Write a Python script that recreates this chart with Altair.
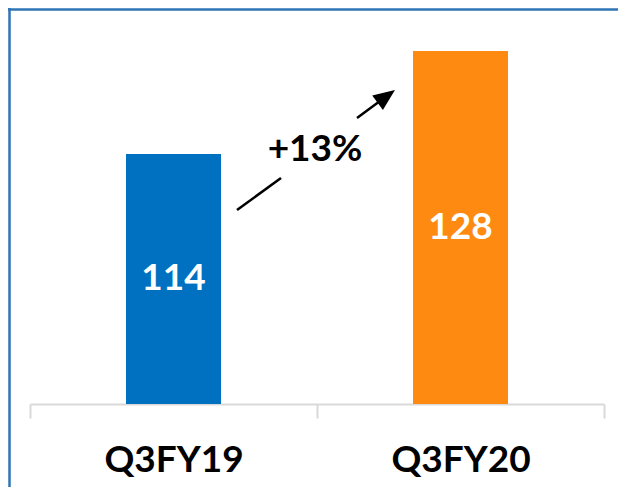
import altair as alt
import pandas as pd

categories = ["Q3FY19", "Q3FY20"]
values = [114, 128]
value_labels = ["114", "128"]
bar_colors = ["#0070C0", "#FF8A12"]
growth_label = ["+13%"]
axis_floor = 80
axis_top = 133.85

df = pd.DataFrame({"period": categories, "value": values,
                   "label": value_labels, "color": bar_colors})

W, H = 574, 396
PL, PT, PR, PB = 22, 0, 14, 83

yscale = alt.Scale(domain=[axis_floor, axis_top], zero=False, nice=False)
xaxis = alt.Axis(title=None, labelAngle=0, domainColor="#D9D9D9", domainWidth=2,
                 tickColor="#D9D9D9", tickWidth=2, tickSize=14, tickBand="extent",
                 labelFont="Lato", labelFontSize=37, labelFontWeight="bold",
                 labelColor="#000000", labelPadding=42, labelBaseline="middle", grid=False)
xenc = alt.X("period:N", sort=categories,
             scale=alt.Scale(paddingInner=0, paddingOuter=0), axis=xaxis)

base = alt.Chart(df)
bars = base.mark_bar(width=95).encode(
    x=xenc,
    y=alt.Y("value:Q", scale=yscale, axis=None),
    y2=alt.datum(axis_floor),
    color=alt.Color("color:N", scale=None),
)
labels = base.transform_calculate(mid=f"(datum.value + {axis_floor}) / 2").mark_text(
    color="white", font="Lato", fontWeight="bold", fontSize=37, baseline="middle"
).encode(
    x=alt.X("period:N", sort=categories),
    y=alt.Y("mid:Q", scale=yscale, axis=None),
    text="label:N",
)

anno = alt.Chart(pd.DataFrame({"t": growth_label}))
growth = anno.mark_text(font="Lato", fontWeight="bold", fontSize=37, color="black",
                        baseline="middle", align="center").encode(
    x=alt.value(285), y=alt.value(142), text="t:N")
seg1 = anno.mark_rule(color="black", strokeWidth=2.5).encode(
    x=alt.value(207), y=alt.value(202), x2=alt.value(251), y2=alt.value(170))
seg2 = anno.mark_rule(color="black", strokeWidth=2.5).encode(
    x=alt.value(327), y=alt.value(110), x2=alt.value(350), y2=alt.value(93))
head = anno.mark_point(shape="M0,-1L0.75,0.8L-0.75,0.8Z", filled=True, opacity=1,
                       color="black", size=576, angle=53.6).encode(
    x=alt.value(355.3), y=alt.value(89.1))

frame_top = anno.mark_rule(color="#2E75B6", strokeWidth=2.5).encode(
    x=alt.value(-PL), x2=alt.value(W + PR), y=alt.value(1.5))
frame_left = anno.mark_rule(color="#2E75B6", strokeWidth=2.5).encode(
    x=alt.value(-PL + 1.5), y=alt.value(0), y2=alt.value(H + PB))

chart = alt.layer(bars, labels, growth, seg1, seg2, head, frame_top, frame_left).properties(
    width=W, height=H, autosize="none",
    padding={"left": PL, "top": PT, "right": PR, "bottom": PB},
).configure_view(stroke=None)

chart.save("out.html", embed_options={"renderer": "svg", "actions": False})
